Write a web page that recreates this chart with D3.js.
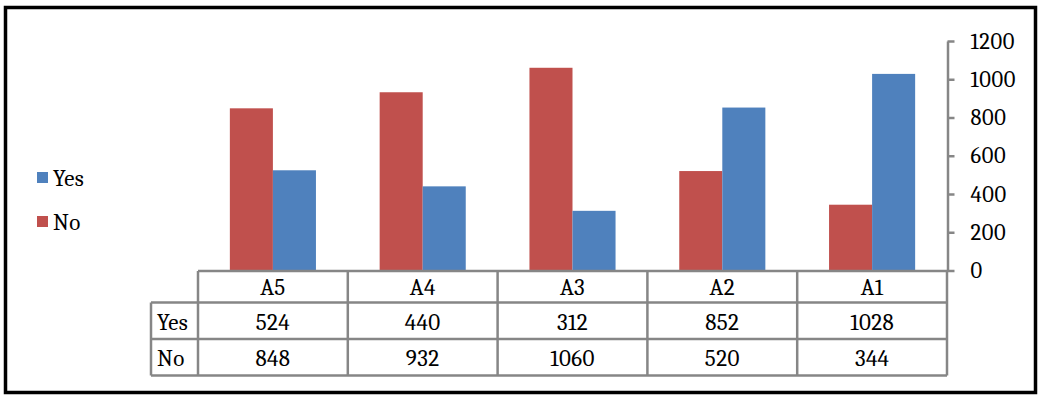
<!DOCTYPE html>
<html>
<head>
<meta charset="utf-8">
<script src="https://cdn.jsdelivr.net/npm/d3@7"></script>
<style>
  body { margin: 0; background: #fff; }
</style>
</head>
<body>
<div id="chart"></div>
<script>
// data
const categories = ['A5', 'A4', 'A3', 'A2', 'A1'];
const seriesNames = ['No', 'Yes'];   // draw order inside each group
const legendOrder = ['Yes', 'No'];
const yesValues = [524, 440, 312, 852, 1028];
const noValues = [848, 932, 1060, 520, 344];
const yTicks = [0, 200, 400, 600, 800, 1000, 1200];

const colors = {Yes: '#4f81bd', No: '#c0504d'};
const values = {Yes: yesValues, No: noValues};

const width = 1040, height = 398;
const fontSize = 23;
const axisFontSize = 22.5;
const fontFamily = '"Cambria", "Liberation Serif", serif';
const gridColor = '#868686';

const svg = d3.select('#chart').append('svg')
  .attr('width', width)
  .attr('height', height)
  .style('font-family', fontFamily);

// outer frame
svg.append('rect')
  .attr('x', 5.5).attr('y', 7.5)
  .attr('width', 1030).attr('height', 385)
  .attr('fill', 'none')
  .attr('stroke', '#000')
  .attr('stroke-width', 3.5);

const x = d3.scaleBand().domain(categories).range([198, 947]);
const xs = d3.scaleBand().domain(seriesNames).range([0, x.bandwidth()]).paddingOuter(0.74);
const y = d3.scaleLinear().domain([0, 1200]).range([270.5, 41]);

// bars
const groups = svg.append('g').selectAll('g')
  .data(categories)
  .join('g')
  .attr('transform', d => `translate(${x(d)},0)`);

groups.selectAll('rect')
  .data((d, i) => seriesNames.map(s => ({s, v: values[s][i]})))
  .join('rect')
  .attr('x', d => xs(d.s))
  .attr('width', xs.bandwidth())
  .attr('y', d => y(d.v))
  .attr('height', d => y(0) - y(d.v))
  .attr('fill', d => colors[d.s]);

// value axis on the right
const yAxis = svg.append('g')
  .attr('transform', 'translate(947.5,0)')
  .call(d3.axisRight(y).tickValues(yTicks).tickSize(7).tickSizeOuter(0).tickPadding(16).tickFormat(d3.format('d')));
yAxis.attr('font-family', null).attr('font-size', null);
yAxis.select('.domain').attr('stroke', gridColor).attr('stroke-width', 2.5);
yAxis.selectAll('.tick line').attr('stroke', gridColor).attr('stroke-width', 2.5);
yAxis.selectAll('.tick text')
  .style('font-family', fontFamily)
  .style('font-size', axisFontSize + 'px')
  .style('letter-spacing', '0.6px')
  .attr('fill', '#000');

// data table below the plot
const rowY = [271, 302.5, 339, 375.5];
const leftX = 151;
const table = svg.append('g')
  .attr('stroke', gridColor)
  .attr('stroke-width', 2.5)
  .attr('fill', 'none');

table.append('line')
  .attr('x1', x.range()[0]).attr('x2', x.range()[1])
  .attr('y1', rowY[0]).attr('y2', rowY[0]);
rowY.slice(1).forEach(yy => {
  table.append('line')
    .attr('x1', leftX).attr('x2', x.range()[1])
    .attr('y1', yy).attr('y2', yy);
});
categories.concat(['end']).forEach((c, i) => {
  const xx = i < categories.length ? x(c) : x.range()[1];
  table.append('line')
    .attr('x1', xx).attr('x2', xx)
    .attr('y1', rowY[0]).attr('y2', rowY[3]);
});
table.append('line')
  .attr('x1', leftX).attr('x2', leftX)
  .attr('y1', rowY[1]).attr('y2', rowY[3]);

const rowMid = i => (rowY[i] + rowY[i + 1]) / 2;

const label = sel => sel
  .style('font-family', fontFamily)
  .style('font-size', fontSize + 'px')
  .style('letter-spacing', '0.4px')
  .attr('fill', '#000');

svg.append('g').selectAll('text.head')
  .data(categories)
  .join('text')
  .attr('x', d => x(d) + x.bandwidth() / 2)
  .attr('y', rowMid(0))
  .attr('dy', '0.35em')
  .attr('text-anchor', 'middle')
  .call(label)
  .text(d => d);

legendOrder.forEach((s, r) => {
  const yy = rowMid(r + 1) + 1;
  svg.append('text')
    .attr('x', 157)
    .attr('y', yy)
    .attr('dy', '0.35em')
    .call(label)
    .text(s);
  svg.append('g').selectAll('text')
    .data(values[s])
    .join('text')
    .attr('x', (d, i) => x(categories[i]) + x.bandwidth() / 2)
    .attr('y', yy)
    .attr('dy', '0.35em')
    .attr('text-anchor', 'middle')
    .call(label)
    .text(d => d);
});

// legend
const legend = svg.append('g').selectAll('g')
  .data(legendOrder)
  .join('g')
  .attr('transform', (d, i) => `translate(37,${172 + i * 44})`);
legend.append('rect')
  .attr('width', 11).attr('height', 11)
  .attr('fill', d => colors[d]);
legend.append('text')
  .attr('x', 16)
  .attr('y', 5.5)
  .attr('dy', '0.35em')
  .call(label)
  .text(d => d);
</script>
</body>
</html>
